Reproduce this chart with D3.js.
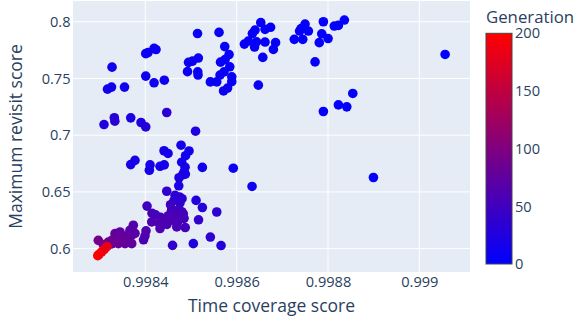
<!DOCTYPE html>
<html>
<head>
<meta charset="utf-8">
<script src="https://cdn.jsdelivr.net/npm/d3@7"></script>
<style>
  html, body { margin: 0; padding: 0; background: #fff; }
  svg { display: block; font-family: "Open Sans", "DejaVu Sans", sans-serif; }
</style>
</head>
<body>
<svg id="chart" width="576" height="322"></svg>
<script>
// Each point: time coverage score (x), maximum revisit score (y), generation (colour)
const timeCoverage = [
  0.9983271, 0.9983172, 0.9983260, 0.9983544, 0.9984009, 0.9984059, 0.9984191, 0.9984234, 0.9984009, 0.9984191,
  0.9984416, 0.9984469, 0.9983095, 0.9983321, 0.9983332, 0.9983680, 0.9983906, 0.9984009, 0.9985143, 0.9984946,
  0.9985034, 0.9985161, 0.9984924, 0.9985148, 0.9985154, 0.9985100, 0.9985614, 0.9985739, 0.9985834, 0.9985647,
  0.9985746, 0.9985849, 0.9985724, 0.9985636, 0.9985893, 0.9985893, 0.9985424, 0.9985564, 0.9985801, 0.9985713,
  0.9986528, 0.9986403, 0.9986344, 0.9986622, 0.9986743, 0.9986169, 0.9986256, 0.9986436, 0.9986392, 0.9986622,
  0.9986852, 0.9986804, 0.9986572, 0.9986475, 0.9987262, 0.9987448, 0.9987498, 0.9987411, 0.9987571, 0.9987378,
  0.9987899, 0.9987864, 0.9987809, 0.9988002, 0.9987717, 0.9988138, 0.9988228, 0.9988359, 0.9988543, 0.9988228,
  0.9988412, 0.9987899, 0.9990565, 0.9988995, 0.9984782, 0.9984957, 0.9984881, 0.9984410, 0.9984497, 0.9983774,
  0.9983680, 0.9984103, 0.9984088, 0.9984322, 0.9984414, 0.9984797, 0.9984870, 0.9984848, 0.9984815, 0.9984876,
  0.9984738, 0.9984732, 0.9985249, 0.9985926, 0.9986337, 0.9984469, 0.9984651, 0.9984749, 0.9984804, 0.9984629,
  0.9984760, 0.9985111, 0.9985249, 0.9985564, 0.9985165, 0.9985424, 0.9985658, 0.9985051, 0.9984596, 0.9984037,
  0.9984147, 0.9984223, 0.9984333, 0.9984552, 0.9984574, 0.9984504, 0.9984651, 0.9984723, 0.9984797, 0.9984832,
  0.9984848, 0.9984683, 0.9984541, 0.9984618, 0.9984723, 0.9984399, 0.9984307, 0.9984322, 0.9984475, 0.9984688,
  0.9984874, 0.9984140, 0.9984015, 0.9983993, 0.9983961, 0.9983737, 0.9983774, 0.9983702, 0.9983665, 0.9983446,
  0.9983336, 0.9983409, 0.9983593, 0.9983632, 0.9983483, 0.9983336, 0.9983264, 0.9983189, 0.9982970, 0.9983409,
  0.9983555, 0.9983702, 0.9983264, 0.9983080,
  0.9982959, 0.9982986, 0.9983045, 0.9983102, 0.9983161
];
const maxRevisit = [
  0.7600, 0.7406, 0.7424, 0.7424, 0.7719, 0.7728, 0.7765, 0.7755, 0.7521, 0.7462,
  0.7485, 0.7200, 0.7094, 0.7154, 0.7124, 0.7153, 0.7112, 0.7073, 0.7896, 0.7642,
  0.7653, 0.7680, 0.7560, 0.7559, 0.7530, 0.7035, 0.7906, 0.7781, 0.7711, 0.7644,
  0.7666, 0.7603, 0.7559, 0.7530, 0.7515, 0.7472, 0.7470, 0.7470, 0.7415, 0.7390,
  0.7993, 0.7927, 0.7896, 0.7933, 0.7951, 0.7803, 0.7830, 0.7823, 0.7777, 0.7821,
  0.7816, 0.7756, 0.7686, 0.7441, 0.7845, 0.7845, 0.7980, 0.7940, 0.7918, 0.7918,
  0.8000, 0.7894, 0.7816, 0.7852, 0.7646, 0.7962, 0.7968, 0.8015, 0.7368, 0.7267,
  0.7250, 0.7209, 0.7712, 0.6627, 0.6912, 0.6861, 0.6819, 0.6863, 0.6839, 0.6778,
  0.6741, 0.6738, 0.6691, 0.6726, 0.6738, 0.6762, 0.6718, 0.6676, 0.6651, 0.6656,
  0.6625, 0.6554, 0.6716, 0.6709, 0.6548, 0.6506, 0.6470, 0.6455, 0.6440, 0.6426,
  0.6404, 0.6425, 0.6362, 0.6323, 0.6254, 0.6102, 0.6027, 0.6044, 0.6029, 0.6375,
  0.6312, 0.6298, 0.6276, 0.6387, 0.6338, 0.6290, 0.6316, 0.6344, 0.6325, 0.6307,
  0.6267, 0.6281, 0.6250, 0.6250, 0.6245, 0.6250, 0.6221, 0.6177, 0.6214, 0.6191,
  0.6186, 0.6235, 0.6157, 0.6113, 0.6078, 0.6206, 0.6135, 0.6117, 0.6162, 0.6147,
  0.6132, 0.6113, 0.6113, 0.6073, 0.6073, 0.6088, 0.6073, 0.6058, 0.6073, 0.6044,
  0.6044, 0.6044, 0.6042, 0.6035,
  0.5938, 0.5950, 0.5972, 0.5994, 0.6018
];
const generation = [
  12, 14, 14, 12, 10, 10, 8, 8, 10, 12,
  10, 34, 26, 30, 32, 22, 24, 30, 6, 10,
  10, 8, 10, 8, 8, 24, 5, 6, 6, 6,
  6, 6, 7, 7, 7, 7, 8, 8, 9, 9,
  4, 4, 4, 4, 4, 5, 5, 5, 5, 5,
  4, 5, 6, 8, 3, 3, 3, 3, 3, 3,
  2, 3, 3, 3, 4, 2, 2, 2, 3, 3,
  3, 4, 1, 3, 16, 14, 14, 16, 16, 18,
  18, 18, 18, 16, 16, 16, 18, 20, 20, 20,
  22, 22, 14, 10, 12, 40, 34, 34, 34, 36,
  38, 26, 30, 36, 40, 36, 30, 26, 40, 50,
  55, 55, 55, 48, 52, 58, 55, 50, 50, 52,
  54, 58, 60, 60, 58, 60, 62, 62, 60, 58,
  52, 62, 64, 66, 60, 66, 70, 72, 68, 72,
  76, 78, 76, 78, 80, 80, 84, 86, 90, 82,
  80, 78, 86, 92,
  200, 198, 195, 190, 182
];

const xTicks = [0.9984, 0.9986, 0.9988, 0.999];
const xTickLabels = ["0.9984", "0.9986", "0.9988", "0.999"];
const yTicks = [0.6, 0.65, 0.7, 0.75, 0.8];
const yTickLabels = ["0.6", "0.65", "0.7", "0.75", "0.8"];
const genTicks = [0, 50, 100, 150, 200];
const genTickLabels = ["0", "50", "100", "150", "200"];

const points = timeCoverage.map((t, i) => ({ t, r: maxRevisit[i], g: generation[i] }));

const svg = d3.select("#chart");
const textColor = "#2a3f5f";

const plot = { left: 73, right: 470, top: 1, bottom: 272 };

const x = d3.scaleLinear().domain([0.9982416, 0.999111]).range([plot.left, plot.right]);
const y = d3.scaleLinear().domain([0.5794, 0.8183]).range([plot.bottom, plot.top]);
const color = d3.scaleLinear().domain([0, 200]).range(["rgb(0,0,255)", "rgb(255,0,0)"]);

// plot background
svg.append("rect")
  .attr("x", plot.left).attr("y", plot.top)
  .attr("width", plot.right - plot.left).attr("height", plot.bottom - plot.top)
  .attr("fill", "#E5ECF6");

// grid lines
const grid = svg.append("g").attr("stroke", "#fff").attr("stroke-width", 1);
grid.selectAll(".vx").data(xTicks).join("line")
  .attr("x1", d => x(d)).attr("x2", d => x(d))
  .attr("y1", plot.top).attr("y2", plot.bottom);
grid.selectAll(".hy").data(yTicks).join("line")
  .attr("x1", plot.left).attr("x2", plot.right)
  .attr("y1", d => y(d)).attr("y2", d => y(d));

// axes (labels only, Plotly-like)
const xAxis = d3.axisBottom(x).tickValues(xTicks)
  .tickFormat((d, i) => xTickLabels[i]).tickSize(0).tickPadding(5);
const gx = svg.append("g").attr("transform", `translate(0,${plot.bottom})`).call(xAxis);
gx.select(".domain").remove();
gx.selectAll("text").attr("fill", textColor).style("font-size", "14.6px")
  .style("font-family", "'Open Sans', sans-serif");

const yAxis = d3.axisLeft(y).tickValues(yTicks)
  .tickFormat((d, i) => yTickLabels[i]).tickSize(0).tickPadding(2.5);
const gy = svg.append("g").attr("transform", `translate(${plot.left},0)`).call(yAxis);
gy.select(".domain").remove();
gy.selectAll("text").attr("fill", textColor).style("font-size", "14.6px")
  .style("font-family", "'Open Sans', sans-serif");

// markers
svg.append("g").selectAll("circle").data(points).join("circle")
  .attr("cx", d => x(d.t))
  .attr("cy", d => y(d.r))
  .attr("r", 4.8)
  .attr("fill", d => color(d.g));

// axis titles
svg.append("text")
  .attr("x", (plot.left + plot.right) / 2).attr("y", 312)
  .attr("text-anchor", "middle").attr("fill", textColor)
  .style("font-size", "17.5px").text("Time coverage score");

svg.append("text")
  .attr("transform", `translate(21.5,${(plot.top + plot.bottom) / 2}) rotate(-90)`)
  .attr("text-anchor", "middle").attr("fill", textColor)
  .style("font-size", "17.5px").text("Maximum revisit score");

// colour bar
const cb = { x: 486, w: 26, top: 33.3, bottom: 264 };
const defs = svg.append("defs");
const grad = defs.append("linearGradient").attr("id", "genGrad")
  .attr("x1", "0").attr("y1", "1").attr("x2", "0").attr("y2", "0");
grad.append("stop").attr("offset", "0%").attr("stop-color", color(0));
grad.append("stop").attr("offset", "100%").attr("stop-color", color(200));

svg.append("rect")
  .attr("x", cb.x).attr("y", cb.top)
  .attr("width", cb.w).attr("height", cb.bottom - cb.top)
  .attr("fill", "url(#genGrad)")
  .attr("stroke", "#444").attr("stroke-width", 1);

const cScale = d3.scaleLinear().domain([0, 200]).range([cb.bottom, cb.top]);
const cAxis = d3.axisRight(cScale).tickValues(genTicks)
  .tickFormat((d, i) => genTickLabels[i]).tickSize(0).tickPadding(3);
const gc = svg.append("g").attr("transform", `translate(${cb.x + cb.w},0)`).call(cAxis);
gc.select(".domain").remove();
gc.selectAll("text").attr("fill", textColor).style("font-size", "14.6px")
  .style("font-family", "'Open Sans', sans-serif");

svg.append("text")
  .attr("x", cb.x).attr("y", 23)
  .attr("fill", textColor).style("font-size", "16.8px").text("Generation");
</script>
</body>
</html>
